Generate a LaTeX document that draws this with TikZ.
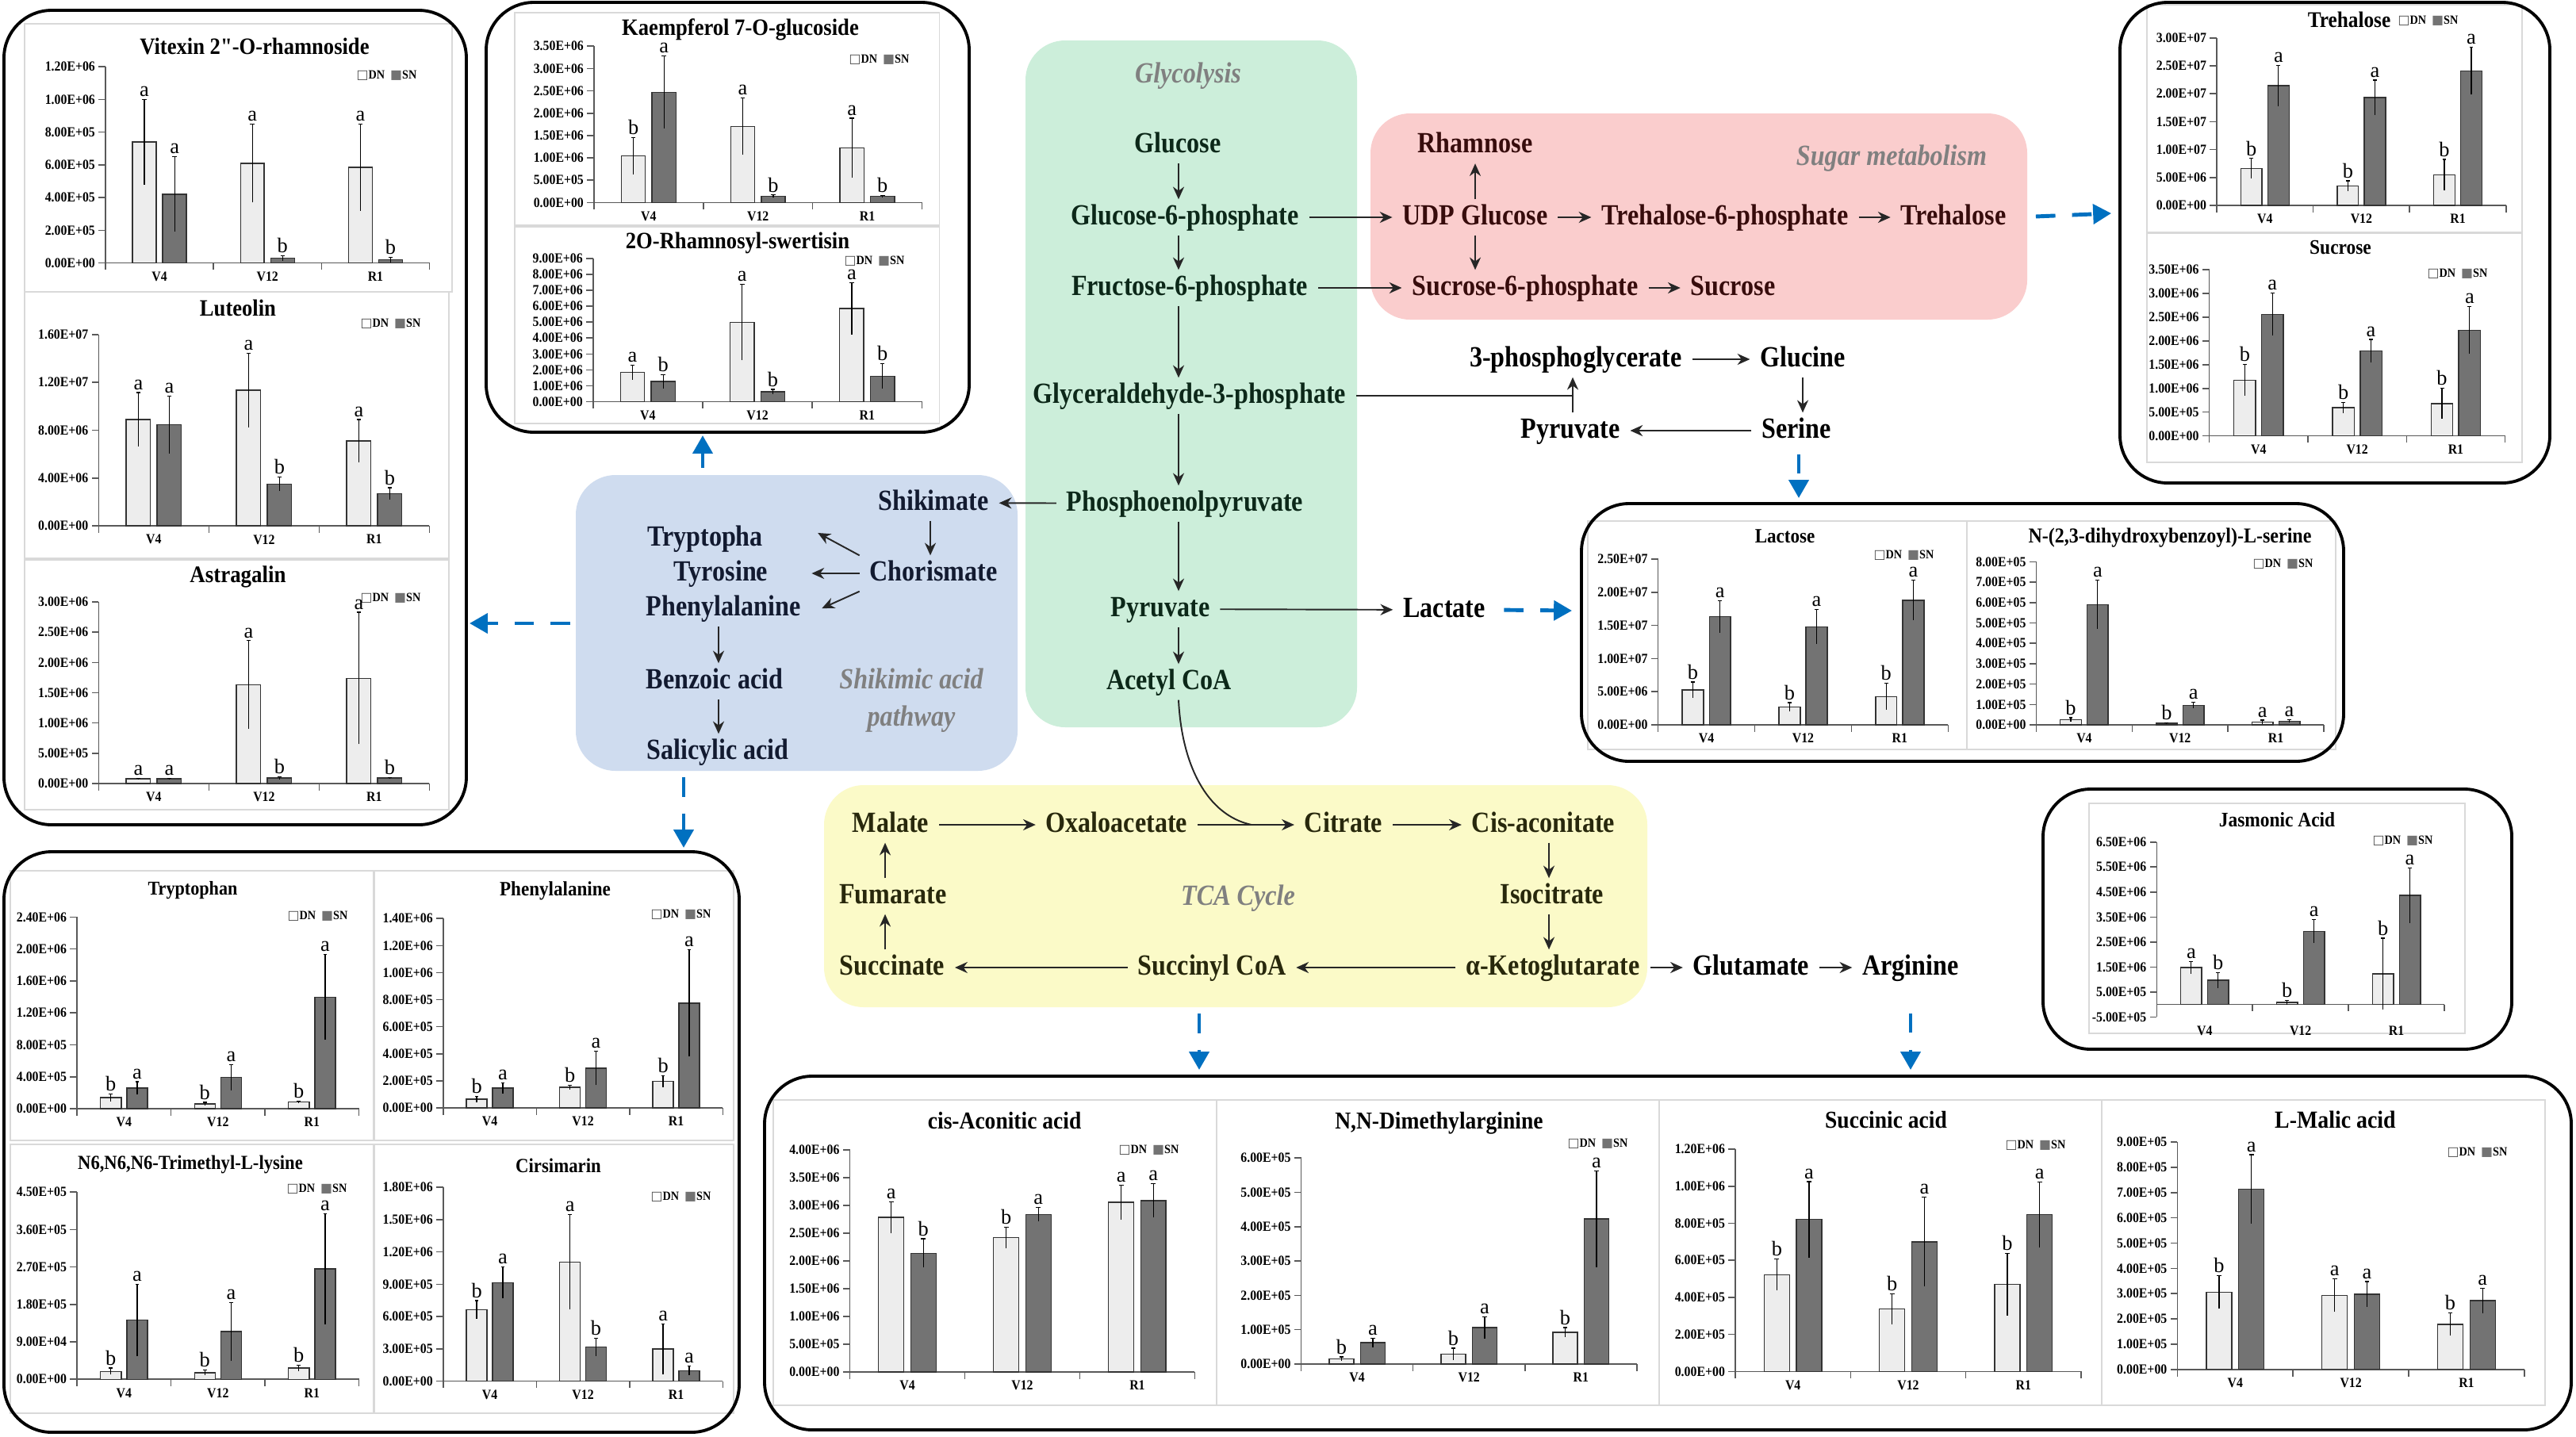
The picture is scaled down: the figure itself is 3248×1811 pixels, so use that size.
\documentclass[tikz,border=0pt]{standalone}
\usepackage{fontspec}
\setmainfont{Liberation Serif}
\newfontfamily\pwfont{Liberation Serif}[FakeStretch=0.87]
\newfontfamily\chfont{Liberation Serif}[FakeStretch=0.9]
\newfontfamily\symfont{DejaVu Sans}
\usetikzlibrary{arrows.meta}

\definecolor{glyfill}{RGB}{204,238,218}
\definecolor{sugfill}{RGB}{250,205,205}
\definecolor{shkfill}{RGB}{207,220,239}
\definecolor{tcafill}{RGB}{251,250,200}
\definecolor{linkblue}{RGB}{0,112,192}
\definecolor{glyink}{RGB}{12,40,25}
\definecolor{sugink}{RGB}{55,12,12}
\definecolor{shkink}{RGB}{18,26,48}
\definecolor{tcaink}{RGB}{40,40,12}

\tikzset{
  pw/.style={font=\pwfont\bfseries\fontsize{10.5}{12}\selectfont, inner xsep=3.5pt, inner ysep=1.5pt, text height=7.4pt, text depth=2.1pt},
  gly/.style={pw, text=glyink},
  sug/.style={pw, text=sugink},
  shk/.style={pw, text=shkink},
  tca/.style={pw, text=tcaink},
  bare/.style={pw, text=black},
  grplab/.style={font=\pwfont\bfseries\itshape\fontsize{10.5}{13.4}\selectfont, text=black!50, align=center},
  arr/.style={draw=black!85, line width=0.55pt, -{Stealth[length=4.5pt,width=4pt]}},
  thinline/.style={draw=black!85, line width=0.55pt},
  bluearr/.style={draw=linkblue, line width=1.4pt, dash pattern=on 7pt off 6pt, -{Triangle[length=6.5pt,width=7pt]}},
  panel/.style={draw=black, line width=1.1pt, rounded corners=0.6cm},
  chartedge/.style={draw=black!15, line width=0.5pt},
  axisline/.style={draw=black!65, line width=0.45pt},
  ticklab/.style={left, font=\chfont\bfseries\fontsize{5}{6}\selectfont, inner sep=1pt},
  grouplab/.style={below, font=\chfont\bfseries\fontsize{5}{6}\selectfont, inner sep=3pt},
  barline/.style={draw=black!80, line width=0.4pt},
  errbar/.style={draw=black, line width=0.35pt},
  siglab/.style={above, font=\fontsize{7.5}{8}\selectfont, inner sep=0.8pt},
  legendlab/.style={anchor=east, font=\chfont\bfseries\fontsize{4.5}{5}\selectfont, inner sep=0pt}
}

\newcommand{\plotframe}[6]{%
  \draw[chartedge] (#1) rectangle (#2);
  \node[font=\chfont\bfseries\fontsize{#4}{#4}\selectfont, inner sep=0pt] at (#3) {#5};
  \node[legendlab] at (#6) {{\symfont\color{black!70}□}DN\hspace{2pt}{\symfont\color{black!55}■}SN};}

\newcommand{\barplot}[7]{%
  \pgfmathsetlengthmacro\gw{#2*0.01cm/3}%
  \pgfmathsetlengthmacro\uh{#3*0.01cm}%
  \begin{scope}[shift={(#1)}, x=\gw, y=\uh]
    \draw[axisline] (0,#4) -- (0,#5);
    \foreach \val/\lab in {#6}
      \draw[axisline] (0,\val) -- ++(-2.5pt,0) node[ticklab] {\lab};
    \draw[axisline] (0,0) -- (3,0);
    \foreach \grp in {0,...,3}
      \draw[axisline] (\grp,0) -- ++(0,-2.5pt);
    \foreach \grp/\gname in {0/V4,1/V12,2/R1}
      \node[grouplab] at (\grp+0.5,#4) {\gname};
    \foreach \val/\err/\sig [count=\idx from 0] in {#7} {
      \pgfmathsetmacro\bx{floor(\idx/2)+0.25+0.28*mod(\idx,2)}
      \ifodd\idx\relax \def\bfill{black!55}\else \def\bfill{black!7}\fi
      \draw[barline, fill=\bfill] (\bx,0) rectangle (\bx+0.22,\val);
      \draw[errbar] (\bx+0.11,\val-\err) -- (\bx+0.11,\val+\err)
        (\bx+0.09,\val+\err) -- (\bx+0.13,\val+\err);
      \node[siglab] at (\bx+0.11,\val+\err) {\sig};
    }
  \end{scope}}

\begin{document}
\begin{tikzpicture}[x=0.01cm, y=-0.01cm]
\fill[white] (0,0) rectangle (3248,1811);
\useasboundingbox (0,0) rectangle (3248,1811);

\fill[glyfill, rounded corners=0.5cm] (1293,51) rectangle (1711,917);
\fill[sugfill, rounded corners=0.5cm] (1728,143) rectangle (2556,403);
\fill[shkfill, rounded corners=0.5cm] (726,599) rectangle (1283,972);
\fill[tcafill, rounded corners=0.5cm] (1039,990) rectangle (2077,1270);

\coordinate (glyx) at (1486,0);
\coordinate (pgax) at (1983,0);
\coordinate (shikx) at (1173,0);
\coordinate (shax) at (906,0);
\coordinate (tcal) at (1116,0);
\coordinate (tcar) at (1953,0);

\path (1498,96) node[grplab] (glylab) {Glycolysis};
\path (1485,183.5) node[gly] (glucose) {Glucose};
\path (1494,274) node[gly] (gsixp) {Glucose-6-phosphate};
\path (1500,363) node[gly] (fsixp) {Fructose-6-phosphate};
\path (1500,499) node[gly] (gap) {Glyceraldehyde-3-phosphate};
\path (1494,635) node[gly] (pep) {Phosphoenolpyruvate};
\path (1463,768) node[gly] (pyr) {Pyruvate};
\path (1474,860) node[gly] (acoa) {Acetyl CoA};

\path (1860,183.5) node[sug] (rham) {Rhamnose};
\path (2385,200) node[grplab] (suglab) {Sugar metabolism};
\path (1860,274) node[sug] (udpg) {UDP Glucose};
\path (2175,274) node[sug] (tsixp) {Trehalose-6-phosphate};
\path (2463,274) node[sug] (treh) {Trehalose};
\path (1923,363) node[sug] (ssixp) {Sucrose-6-phosphate};
\path (2185,363) node[sug] (sucr) {Sucrose};

\path (1987,453) node[bare] (pga) {3-phosphoglycerate};
\path (2273,453) node[bare] (glucine) {Glucine};
\path (1980,543) node[bare] (pyrb) {Pyruvate};
\path (2265,543) node[bare] (serine) {Serine};
\path (1821,769) node[bare] (lactate) {Lactate};

\path (1177,634) node[shk] (shik) {Shikimate};
\path (889,679) node[shk] (trp) {Tryptopha};
\path (909,723) node[shk] (tyr) {Tyrosine};
\path (1177,723) node[shk] (chor) {Chorismate};
\path (912,767) node[shk] (phe) {Phenylalanine};
\path (901,859) node[shk] (benz) {Benzoic acid};
\path (1149,883) node[grplab] (shklab) {Shikimic acid\\pathway};
\path (905,948) node[shk] (sal) {Salicylic acid};

\path (1123,1040) node[tca] (malate) {Malate};
\path (1408,1040) node[tca] (oaa) {Oxaloacetate};
\path (1694,1040) node[tca] (citrate) {Citrate};
\path (1946,1040) node[tca] (cisac) {Cis-aconitate};
\path (1126,1130) node[tca] (fum) {Fumarate};
\path (1561,1133) node[grplab] (tcalab) {TCA Cycle};
\path (1957,1130) node[tca] (isocit) {Isocitrate};
\path (1125,1220) node[tca] (succ) {Succinate};
\path (1528,1220) node[tca] (succoa) {Succinyl CoA};
\path (1958,1220) node[tca] (akg) {α-Ketoglutarate};
\path (2208,1220) node[bare] (glu) {Glutamate};
\path (2409,1220) node[bare] (arg) {Arginine};
\coordinate (join) at (1578,1040);

\draw[arr] (glucose.south -| glyx) -- (gsixp.north -| glyx);
\draw[arr] (gsixp.south -| glyx) -- (fsixp.north -| glyx);
\draw[arr] (fsixp.south -| glyx) -- (gap.north -| glyx);
\draw[arr] (gap.south -| glyx) -- (pep.north -| glyx);
\draw[arr] (pep.south -| glyx) -- (pyr.north -| glyx);
\draw[arr] (pyr.south -| glyx) -- (acoa.north -| glyx);
\draw[arr] (gsixp) -- (udpg);
\draw[arr] (udpg) -- (rham);
\draw[arr] (udpg.south) -- (udpg.south |- ssixp.north);
\draw[arr] (udpg) -- (tsixp);
\draw[arr] (tsixp) -- (treh);
\draw[arr] (fsixp) -- (ssixp);
\draw[arr] (ssixp) -- (sucr);
\draw[arr] (pga) -- (glucine);
\draw[arr] (glucine.south) -- (glucine.south |- serine.north);
\draw[arr] (serine) -- (pyrb);
\draw[arr] (pyrb.north -| pgax) -- (pga.south -| pgax);
\draw[thinline] (gap.east) -- (gap.east -| pgax);
\draw[arr] (pyr) -- (lactate);
\draw[arr] (pep) -- (shik);
\draw[arr] (shik.south -| shikx) -- (chor.north -| shikx);
\draw[arr] (chor.north west) -- ([xshift=16pt,yshift=2pt]trp.east);
\draw[arr] (chor.west) -- ([xshift=12pt]tyr.east);
\draw[arr] (chor.south west) -- ([xshift=4pt]phe.east);
\draw[arr] (phe.south -| shax) -- (benz.north -| shax);
\draw[arr] (benz.south -| shax) -- (sal.north -| shax);
\draw[arr] (malate) -- (oaa);
\draw[arr] (oaa) -- (citrate);
\draw[arr] (citrate) -- (cisac);
\draw[arr] (cisac.south -| tcar) -- (isocit.north -| tcar);
\draw[arr] (isocit.south -| tcar) -- (akg.north -| tcar);
\draw[arr] (akg) -- (succoa);
\draw[arr] (succoa) -- (succ);
\draw[arr] (succ.north -| tcal) -- (fum.south -| tcal);
\draw[arr] (fum.north -| tcal) -- (malate.south -| tcal);
\draw[arr] (akg) -- (glu);
\draw[arr] (glu) -- (arg);
\draw[thinline] (acoa.south -| glyx) .. controls (1490,965) and (1522,1028) .. (join);

\coordinate (treB) at (2662,269);
\coordinate (shkA) at (886,590);
\coordinate (shkB) at (886,549);
\coordinate (lftA) at (719,786);
\coordinate (lftB) at (592,786);
\coordinate (salA) at (862,980);
\coordinate (salB) at (862,1069);
\coordinate (serB) at (2268,628);
\coordinate (lacB) at (1982,770);
\coordinate (tcaA) at (1512,1278);
\coordinate (tcaB) at (1512,1349);
\coordinate (argB) at (2409,1349);
\draw[bluearr, shorten <=7pt] (treh.east) -- (treB);
\draw[bluearr] (shkA) -- (shkB);
\draw[bluearr] (lftA) -- (lftB);
\draw[bluearr] (salA) -- (salB);
\draw[bluearr, shorten <=2pt] (serine.south -| serB) -- (serB);
\draw[bluearr, shorten <=3pt] (lactate.east) -- (lacB);
\draw[bluearr] (tcaA) -- (tcaB);
\draw[bluearr, shorten <=10pt] (arg.south) -- (argB);

\plotframe{31,30}{570,368}{321,58}{8.4}{Vitexin 2"-O-rhamnoside}{526,95}
\barplot{133,331.6}{408.5}{20.62}{0}{12}{0/0.00E+00,2/2.00E+05,4/4.00E+05,6/6.00E+05,8/8.00E+05,10/1.00E+06,12/1.20E+06}{7.4/2.6/a,4.2/2.3/a,6.1/2.4/a,0.3/0.15/b,5.85/2.65/a,0.2/0.15/b}
\plotframe{31,368}{566,704}{300,388}{8.4}{Luteolin}{531,408}
\barplot{124.4,663.1}{417}{15.07}{0}{16}{0/0.00E+00,4/4.00E+06,8/8.00E+06,12/1.20E+07,16/1.60E+07}{8.9/2.25/a,8.45/2.4/a,11.35/3.1/a,3.5/0.6/b,7.1/1.8/a,2.7/0.5/b}
\plotframe{31,706}{566,1021}{300,727}{8.5}{Astragalin}{531,754}
\barplot{124.4,988}{417}{7.633}{0}{30}{0/0.00E+00,5/5.00E+05,10/1.00E+06,15/1.50E+06,20/2.00E+06,25/2.50E+06,30/3.00E+06}{0.8/0.1/a,0.8/0.1/a,16.3/7.3/a,0.9/0.2/b,17.4/10.9/a,0.9/0.1/b}

\plotframe{649,16}{1184.5,284}{933.5,37.5}{8.4}{Kaempferol 7-O-glucoside}{1147,75}
\barplot{749,255.4}{413.4}{5.634}{0}{35}{0/0.00E+00,5/5.00E+05,10/1.00E+06,15/1.50E+06,20/2.00E+06,25/2.50E+06,30/3.00E+06,35/3.50E+06}{10.45/4.1/b,24.7/8.1/a,17.05/6.4/a,1.4/0.3/b,12.2/6.7/a,1.4/0.2/b}
\plotframe{649,286}{1184.5,534}{930,306.4}{8.4}{2O-Rhamnosyl-swertisin}{1141,329}
\barplot{747.8,506.4}{414.6}{20.04}{0}{9}{0/0.00E+00,1/1.00E+06,2/2.00E+06,3/3.00E+06,4/4.00E+06,5/5.00E+06,6/6.00E+06,7/7.00E+06,8/8.00E+06,9/9.00E+06}{1.84/0.45/a,1.27/0.43/b,5.0/2.4/a,0.62/0.15/b,5.85/1.64/a,1.6/0.78/b}

\plotframe{2707,6}{3180,293}{2962,24.5}{8.0}{Trehalose}{3100,26}
\barplot{2795,259}{364.8}{7.04}{0}{30}{0/0.00E+00,5/5.00E+06,10/1.00E+07,15/1.50E+07,20/2.00E+07,25/2.50E+07,30/3.00E+07}{6.6/1.8/b,21.45/3.65/a,3.5/0.9/b,19.3/3.15/a,5.5/2.75/b,24.1/4.25/a}
\plotframe{2707,294.6}{3180,583}{2951,312.4}{7.4}{Sucrose}{3137,345}
\barplot{2785.6,549.6}{373}{5.99}{0}{35}{0/0.00E+00,5/5.00E+05,10/1.00E+06,15/1.50E+06,20/2.00E+06,25/2.50E+06,30/3.00E+06,35/3.50E+06}{11.75/3.3/b,25.6/4.5/a,5.95/1.1/b,17.85/2.45/a,6.8/3.2/b,22.25/5.0/a}

\plotframe{2002,657}{2480,945}{2250.6,676.7}{7.3}{Lactose}{2439,700}
\barplot{2090.6,914}{365.7}{8.36}{0}{25}{0/0.00E+00,5/5.00E+06,10/1.00E+07,15/1.50E+07,20/2.00E+07,25/2.50E+07}{5.25/1.2/b,16.3/2.4/a,2.7/0.65/b,14.8/2.6/a,4.25/2.0/b,18.8/3.0/a}
\plotframe{2480,657}{2945,945}{2736,678}{7.6}{N-(2,3-dihydroxybenzoyl)-L-serine}{2917,711}
\barplot{2567.5,914}{362.5}{25.7}{0}{8}{0/0.00E+00,1/1.00E+05,2/2.00E+05,3/3.00E+05,4/4.00E+05,5/5.00E+05,6/6.00E+05,7/7.00E+05,8/8.00E+05}{0.25/0.1/b,5.9/1.2/a,0.08/0.03/b,0.96/0.15/a,0.13/0.1/a,0.18/0.08/a}

\plotframe{2634,1013}{3108,1303}{2871,1034}{7.4}{Jasmonic Acid}{3068,1060}
\barplot{2719.3,1266.6}{362.7}{31.52}{-0.5}{6.5}{-0.5/-5.00E+05,0.5/5.00E+05,1.5/1.50E+06,2.5/2.50E+06,3.5/3.50E+06,4.5/4.50E+06,5.5/5.50E+06,6.5/6.50E+06}{1.48/0.24/a,0.97/0.3/b,0.08/0.08/b,2.93/0.47/a,1.23/1.42/b,4.36/1.1/a}

\plotframe{13,1098}{470.6,1438}{243,1123}{7.0}{Tryptophan}{439,1155}
\barplot{97.1,1398}{355.5}{10.07}{0}{24}{0/0.00E+00,4/4.00E+05,8/8.00E+05,12/1.20E+06,16/1.60E+06,20/2.00E+06,24/2.40E+06}{1.4/0.47/b,2.58/0.8/a,0.6/0.2/b,3.9/1.6/a,0.84/0.1/b,13.95/5.35/a}
\plotframe{472,1098}{925,1438}{700,1123}{7.3}{Phenylalanine}{897,1153}
\barplot{558.8,1397}{352.5}{17.06}{0}{14}{0/0.00E+00,2/2.00E+05,4/4.00E+05,6/6.00E+05,8/8.00E+05,10/1.00E+06,12/1.20E+06,14/1.40E+06}{0.64/0.2/b,1.47/0.4/a,1.52/0.17/b,2.93/1.25/a,1.96/0.42/b,7.75/3.95/a}
\plotframe{13,1443}{470.6,1782}{240,1468}{7.15}{N6,N6,N6-Trimethyl-L-lysine}{438,1499}
\barplot{97.1,1739.2}{355.5}{5.244}{0}{45}{0/0.00E+00,9/9.00E+04,18/1.80E+05,27/2.70E+05,36/3.60E+05,45/4.50E+05}{1.9/0.8/b,14.2/8.7/a,1.6/0.6/b,11.5/7.0/a,2.7/0.7/b,26.55/13.3/a}
\plotframe{472,1443}{925,1782}{704,1470}{7.2}{Cirsimarin}{897,1509}
\barplot{558.8,1741.6}{352.5}{13.59}{0}{18}{0/0.00E+00,3/3.00E+05,6/6.00E+05,9/9.00E+05,12/1.20E+06,15/1.50E+06,18/1.80E+06}{6.64/0.83/b,9.14/1.46/a,11.05/4.4/a,3.16/0.83/b,3.0/2.33/a,0.97/0.42/a}

\plotframe{975,1387}{1534,1772}{1266.6,1413}{8.7}{cis-Aconitic acid}{1487,1450}
\barplot{1071.5,1730}{434.9}{7.0}{0}{40}{0/0.00E+00,5/5.00E+05,10/1.00E+06,15/1.50E+06,20/2.00E+06,25/2.50E+06,30/3.00E+06,35/3.50E+06,40/4.00E+06}{27.85/2.85/a,21.4/2.6/b,24.2/1.85/b,28.4/1.25/a,30.55/3.15/a,30.85/3.05/a}
\plotframe{1534,1387}{2092,1772}{1814.4,1416.7}{8.7}{N,N-Dimethylarginine}{2053,1442}
\barplot{1640.6,1720}{423.2}{43.33}{0}{6}{0/0.00E+00,1/1.00E+05,2/2.00E+05,3/3.00E+05,4/4.00E+05,5/5.00E+05,6/6.00E+05}{0.15/0.06/b,0.62/0.13/a,0.29/0.17/b,1.06/0.31/a,0.92/0.14/b,4.22/1.4/a}
\plotframe{2092,1387}{2650,1772}{2378,1411.7}{8.7}{Succinic acid}{2605,1444}
\barplot{2188,1729.3}{436}{23.36}{0}{12}{0/0.00E+00,2/2.00E+05,4/4.00E+05,6/6.00E+05,8/8.00E+05,10/1.00E+06,12/1.20E+06}{5.22/0.84/b,8.2/2.05/a,3.37/0.81/b,7.0/2.4/a,4.7/1.68/b,8.46/1.78/a}
\plotframe{2650,1387}{3209,1772}{2944.4,1411.7}{8.8}{L-Malic acid}{3162,1453}
\barplot{2745.4,1726.7}{437.4}{31.85}{0}{9}{0/0.00E+00,1/1.00E+05,2/2.00E+05,3/3.00E+05,4/4.00E+05,5/5.00E+05,6/6.00E+05,7/7.00E+05,8/8.00E+05,9/9.00E+05}{3.06/0.66/b,7.14/1.36/a,2.93/0.66/a,2.98/0.5/a,1.78/0.45/b,2.72/0.5/a}

\draw[panel] (5,13) rectangle (588,1040);
\draw[panel] (613,3) rectangle (1222,545);
\draw[panel] (2673,3) rectangle (3215,609);
\draw[panel] (1994,635) rectangle (2955,960);
\draw[panel] (2576,995) rectangle (3167,1323);
\draw[panel] (5,1074) rectangle (932,1806);
\draw[panel] (964,1357) rectangle (3242,1803);
\end{tikzpicture}
\end{document}
